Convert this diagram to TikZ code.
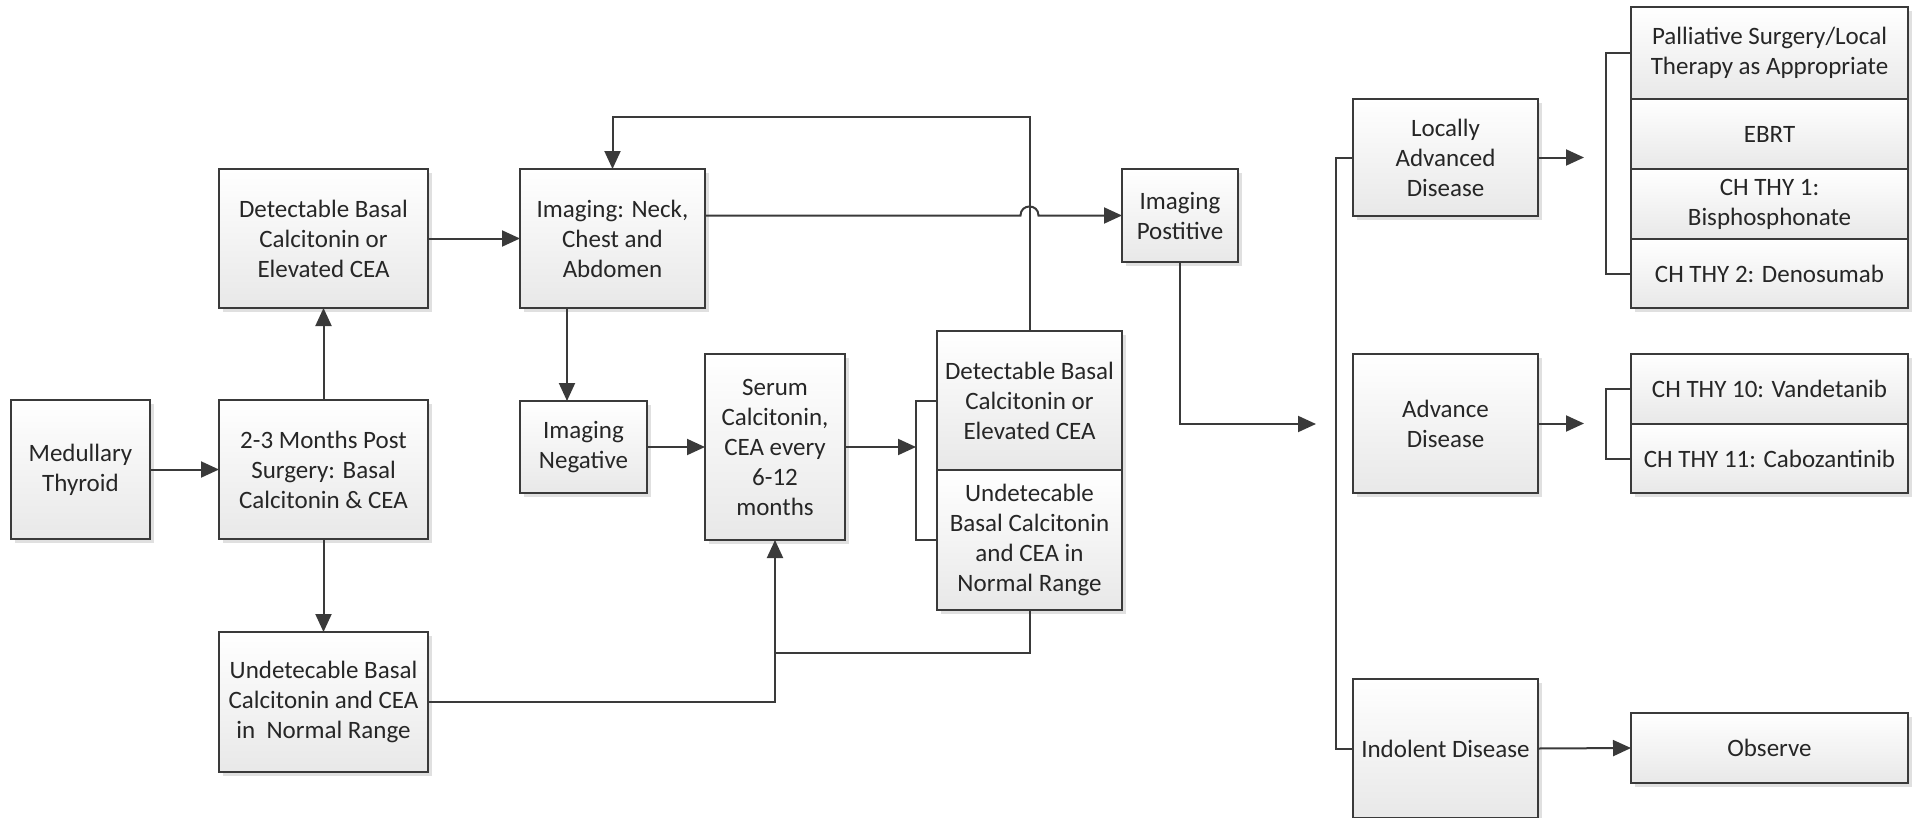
\documentclass[tikz,border=0pt]{standalone}
\usepackage{fontspec}
\setmainfont{Carlito}
\usetikzlibrary{arrows.meta,shadows,calc}
\definecolor{ln}{HTML}{3A3A3A}
\definecolor{tx}{HTML}{262626}
\newcommand\bx[6]{\node[box, minimum width={(#4-#2)*1pt}, minimum height={(#5-#3)*1pt}] (#1) at ({(#2+#4)/2},{(#3+#5)/2}) {#6};}
\begin{document}
\begin{tikzpicture}[x=1pt,y=-1pt,
 box/.style={draw=ln, line width=2pt, top color=white, bottom color=black!9, align=center, inner sep=0pt, outer sep=0pt, font=\fontsize{25}{30}\selectfont, text=tx, drop shadow={shadow xshift=4pt, shadow yshift=-4pt, opacity=0.12, fill=black}},
 conn/.style={draw=ln, line width=2pt},
 arr/.style={conn, -{Triangle[length=18pt,width=16pt]}}]
\useasboundingbox (0,0) rectangle (1917,817);
\bx{med}{11}{400}{150}{539}{Medullary\\Thyroid}
\bx{m23}{219}{400}{428}{539}{2-3 Months Post\\Surgery: Basal\\Calcitonin \& CEA}
\bx{det1}{219}{169}{428}{308}{Detectable Basal\\Calcitonin or\\Elevated CEA}
\bx{und1}{219}{632}{428}{772}{Undetecable Basal\\Calcitonin and CEA\\in\ \ Normal Range}
\bx{img}{520}{169}{705}{308}{Imaging: Neck,\\Chest and\\Abdomen}
\bx{neg}{520}{401}{647}{493}{Imaging\\Negative}
\bx{ser}{705}{354}{845}{540}{Serum\\Calcitonin,\\CEA every\\6-12\\months}
\bx{det2}{937}{331}{1122}{470}{Detectable Basal\\Calcitonin or\\Elevated CEA}
\bx{und2}{937}{470}{1122}{610}{Undetecable\\Basal Calcitonin\\and CEA in\\Normal Range}
\bx{pos}{1122}{169}{1238}{262}{Imaging\\Postitive}
\bx{loc}{1353}{99}{1538}{216}{Locally\\Advanced\\Disease}
\bx{adv}{1353}{354}{1538}{493}{Advance\\Disease}
\bx{ind}{1353}{679}{1538}{818}{Indolent Disease}
\bx{pal}{1631}{7}{1908}{99}{Palliative Surgery/Local\\Therapy as Appropriate}
\bx{ebrt}{1631}{99}{1908}{169}{EBRT}
\bx{ch1}{1631}{169}{1908}{239}{CH THY 1:\\Bisphosphonate}
\bx{ch2}{1631}{239}{1908}{308}{CH THY 2: Denosumab}
\bx{van}{1631}{354}{1908}{424}{CH THY 10: Vandetanib}
\bx{cab}{1631}{424}{1908}{493}{CH THY 11: Cabozantinib}
\bx{obs}{1631}{713}{1908}{783}{Observe}
\coordinate (xneg) at (567,0);
\coordinate (top) at (0,117);
\coordinate (bk1) at (916,0);
\coordinate (j) at (775,653);
\coordinate (lbx) at (1336,0);
\coordinate (rbx) at (1606,0);
\coordinate (advin) at (1316,424);
\coordinate (locout) at (1584,0);
\draw[arr] (med.east) -- (m23.west);
\draw[arr] (m23.north) -- (det1.south);
\draw[arr] (m23.south) -- (und1.north);
\draw[arr] (det1.east) -- (img.west);
\draw[arr] (img.south -| xneg) -- (neg.north -| xneg);
\draw[arr] (neg.east) -- (ser.west);
\draw[arr] (ser.east) -- (ser.east -| bk1);
\draw[conn] (det2.west) -- (det2.west -| bk1) -- (und2.west -| bk1) -- (und2.west);
\draw[arr] (und1.east) -| (ser.south);
\draw[conn] (und2.south) |- (j);
\draw[arr] (det2.north) |- (img.north |- top) -- (img.north);
\draw[arr] (img.east |- pos.west) -- ($(det2.north |- pos.west)+(-9,0)$) .. controls +(0,-12) and +(0,-12) .. ($(det2.north |- pos.west)+(9,0)$) -- (pos.west);
\draw[arr] (pos.south) |- (advin);
\draw[conn] (loc.west) -- (loc.west -| lbx) -- (ind.west -| lbx) -- (ind.west);
\draw[arr] (loc.east) -- (loc.east -| locout);
\draw[arr] (adv.east) -- (adv.east -| locout);
\draw[conn] (pal.west) -- (pal.west -| rbx) -- (ch2.west -| rbx) -- (ch2.west);
\draw[conn] (van.west) -- (van.west -| rbx) -- (cab.west -| rbx) -- (cab.west);
\draw[arr] (ind.east) -- (obs.west);
\end{tikzpicture}
\end{document}
